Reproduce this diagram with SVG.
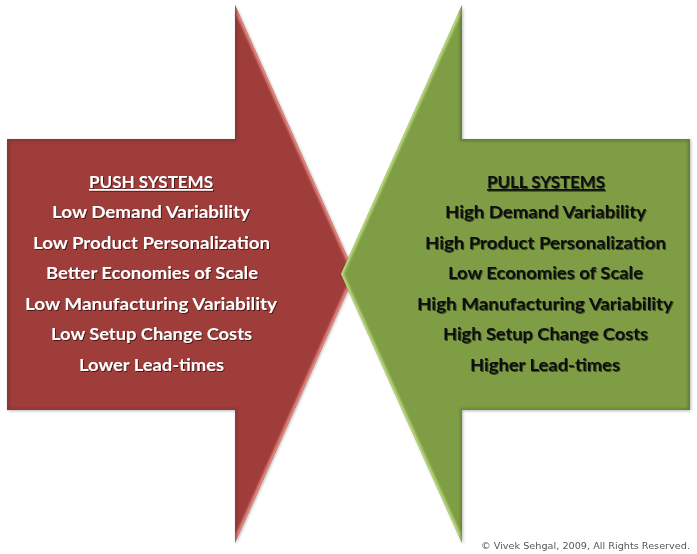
<svg xmlns="http://www.w3.org/2000/svg" width="697" height="554" viewBox="0 0 697 554">
  <defs>
    <filter id="shadow" x="-10%" y="-10%" width="120%" height="120%">
      <feGaussianBlur stdDeviation="1.6"/>
    </filter>
    <filter id="soft" x="-10%" y="-10%" width="120%" height="120%">
      <feGaussianBlur stdDeviation="1.3"/>
    </filter>
    <filter id="txtshadow" x="-5%" y="-30%" width="110%" height="160%">
      <feGaussianBlur in="SourceAlpha" stdDeviation="0.6" result="b"/>
      <feOffset in="b" dx="1" dy="1" result="o"/>
      <feComponentTransfer in="o" result="s"><feFuncA type="linear" slope="0.55"/></feComponentTransfer>
      <feMerge><feMergeNode in="s"/><feMergeNode in="SourceGraphic"/></feMerge>
    </filter>
    <clipPath id="clipPush">
      <polygon points="7,139 235,139 235,5 355,274 235,543 235,410 7,410"/>
    </clipPath>
    <clipPath id="clipPull">
      <polygon points="690,139 462,139 462,5 341,274 462,543 462,410 690,410"/>
    </clipPath>
  </defs>
  <style>
    .lbl { font-family: Lato, "Open Sans", "Liberation Sans", sans-serif; font-weight: bold; font-size: 17px; text-anchor: middle; }
    .push .lbl { fill: #ffffff; }
    .pull .lbl { fill: #111111; }
    .head { text-decoration: underline; }
    .shade { fill: #000000; opacity: 0.28; }
    .copy { font-family: "DejaVu Sans", "Liberation Sans", sans-serif; font-size: 9.5px; fill: #555555; }
  </style>

  <g id="push-arrow" class="push">
    <polygon class="shade" filter="url(#shadow)" points="8,140 236,140 236,6 356,275 236,544 236,411 8,411"/>
    <polygon points="7,139 235,139 235,5 355,274 235,543 235,410 7,410" fill="#9f3d3b"/>
    <g clip-path="url(#clipPush)" filter="url(#soft)">
      <polyline points="235,5 355,274 235,543" fill="none" stroke="#e68a80" stroke-width="5"/>
      <polyline points="7,410 7,139 235,139 235,5" fill="none" stroke="#7a3030" stroke-width="5" opacity="0.6"/>
      <polyline points="235,543 235,410 7,410" fill="none" stroke="#7a3030" stroke-width="4" opacity="0.5"/>
    </g>
    <g filter="url(#txtshadow)">
      <text class="lbl head" x="151" y="188" textLength="124" lengthAdjust="spacingAndGlyphs">PUSH SYSTEMS</text>
      <text class="lbl" x="151" y="218" textLength="198" lengthAdjust="spacingAndGlyphs">Low Demand Variability</text>
      <text class="lbl" x="151.5" y="249" textLength="237" lengthAdjust="spacingAndGlyphs">Low Product Personalization</text>
      <text class="lbl" x="152" y="279" textLength="212" lengthAdjust="spacingAndGlyphs">Better Economies of Scale</text>
      <text class="lbl" x="151" y="310" textLength="252" lengthAdjust="spacingAndGlyphs">Low Manufacturing Variability</text>
      <text class="lbl" x="151.5" y="340" textLength="201" lengthAdjust="spacingAndGlyphs">Low Setup Change Costs</text>
      <text class="lbl" x="151.5" y="371" textLength="145" lengthAdjust="spacingAndGlyphs">Lower Lead-times</text>
    </g>
  </g>

  <g id="pull-arrow" class="pull">
    <polygon class="shade" filter="url(#shadow)" points="691,140 463,140 463,6 342,275 463,544 463,411 691,411"/>
    <polygon points="690,139 462,139 462,5 341,274 462,543 462,410 690,410" fill="#7f9d45"/>
    <g clip-path="url(#clipPull)" filter="url(#soft)">
      <polyline points="462,5 341,274 462,543" fill="none" stroke="#b8d77c" stroke-width="5"/>
      <polyline points="462,5 462,139 690,139 690,410" fill="none" stroke="#56702c" stroke-width="5" opacity="0.6"/>
      <polyline points="690,410 462,410 462,543" fill="none" stroke="#56702c" stroke-width="4" opacity="0.5"/>
    </g>
    <g filter="url(#txtshadow)">
      <text class="lbl head" x="546" y="188" textLength="118" lengthAdjust="spacingAndGlyphs">PULL SYSTEMS</text>
      <text class="lbl" x="545.5" y="218" textLength="201" lengthAdjust="spacingAndGlyphs">High Demand Variability</text>
      <text class="lbl" x="545.5" y="249" textLength="241" lengthAdjust="spacingAndGlyphs">High Product Personalization</text>
      <text class="lbl" x="545.5" y="279" textLength="195" lengthAdjust="spacingAndGlyphs">Low Economies of Scale</text>
      <text class="lbl" x="545" y="310" textLength="256" lengthAdjust="spacingAndGlyphs">High Manufacturing Variability</text>
      <text class="lbl" x="545.5" y="340" textLength="205" lengthAdjust="spacingAndGlyphs">High Setup Change Costs</text>
      <text class="lbl" x="545" y="371" textLength="150" lengthAdjust="spacingAndGlyphs">Higher Lead-times</text>
    </g>
  </g>

  <g id="copyright">
    <text class="copy" x="481" y="549" textLength="209" lengthAdjust="spacingAndGlyphs">© Vivek Sehgal, 2009, All Rights Reserved.</text>
  </g>
</svg>
